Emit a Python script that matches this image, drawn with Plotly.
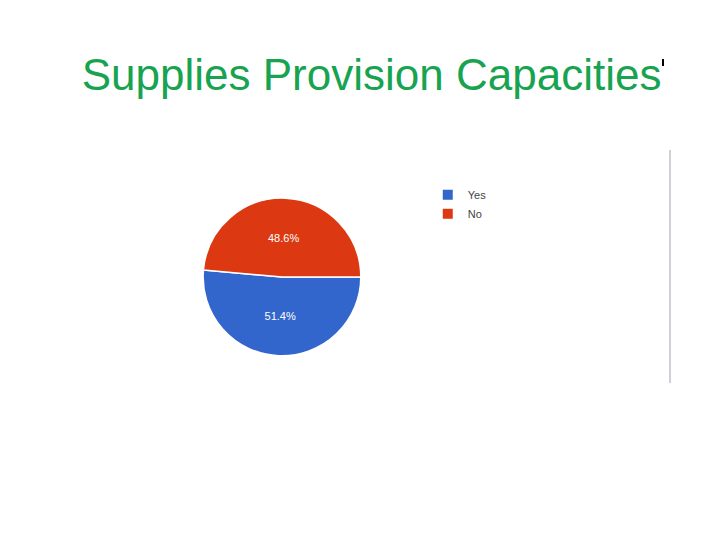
import plotly.graph_objects as go

labels = ["Yes", "No"]
values = [51.4, 48.6]
colors = ["#3366cc", "#dc3912"]
title_text = "Supplies Provision Capacities"

fig = go.Figure()
fig.add_trace(go.Pie(
    labels=labels,
    values=values,
    sort=False,
    direction="clockwise",
    rotation=90,
    marker=dict(colors=colors, line=dict(color="white", width=1.5)),
    textinfo="percent",
    texttemplate="%{percent:.1%}",
    textposition="inside",
    insidetextorientation="horizontal",
    textfont=dict(color="white", size=11, family="Liberation Sans, Arial"),
    domain=dict(x=[0.271, 0.490], y=[0.356, 0.648]),
    hoverinfo="label+percent",
))

fig.update_layout(
    width=720, height=540,
    margin=dict(l=0, r=0, t=0, b=0),
    paper_bgcolor="white",
    plot_bgcolor="white",
    title=dict(text=title_text, x=0.505, xanchor="center", y=0.877, yanchor="middle",
               font=dict(family="Liberation Sans, Arial", size=44, color="#17a34f")),
    showlegend=True,
    legend=dict(x=0.583, y=0.681, xanchor="left", yanchor="top",
                font=dict(family="Liberation Sans, Arial", size=11, color="#444444"),
                itemsizing="constant", tracegroupgap=0, itemwidth=30,
                bgcolor="rgba(0,0,0,0)"),
    shapes=[
        dict(type="line", xref="paper", yref="paper",
             x0=662/720, x1=662/720, y0=1-142/540, y1=1-375/540,
             line=dict(color="#d0d0d8", width=2)),
        dict(type="line", xref="paper", yref="paper",
             x0=655/720, x1=655/720, y0=1-51/540, y1=1-58/540,
             line=dict(color="black", width=2)),
    ],
)

fig.write_html("out.html")
